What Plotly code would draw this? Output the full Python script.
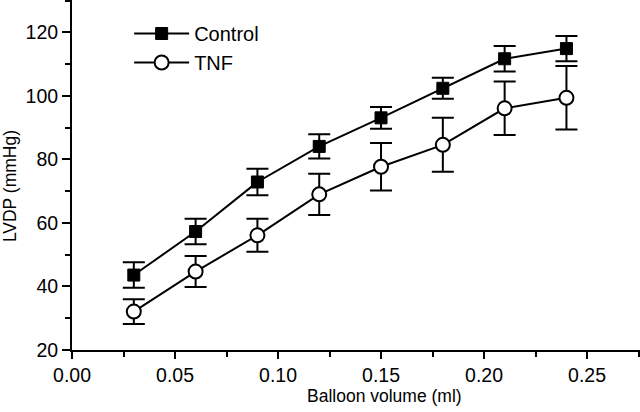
import plotly.graph_objects as go

volume = [0.03, 0.06, 0.09, 0.12, 0.15, 0.18, 0.21, 0.24]
control = [43.6, 57.3, 72.9, 84.1, 93.1, 102.4, 111.7, 114.9]
control_err = [4.0, 4.0, 4.2, 3.8, 3.4, 3.3, 4.0, 4.0]
tnf = [32.1, 44.7, 56.1, 69.0, 77.7, 84.6, 96.1, 99.4]
tnf_err = [3.9, 4.9, 5.2, 6.5, 7.5, 8.5, 8.4, 10.0]

FONT = "Liberation Sans, Arial, sans-serif"

fig = go.Figure()
fig.add_trace(go.Scatter(
    x=volume, y=tnf, name="TNF", mode="lines+markers",
    line=dict(color="black", width=2),
    marker=dict(symbol="circle", size=14, color="white", line=dict(color="black", width=2)),
    error_y=dict(type="data", array=tnf_err, color="black", thickness=2, width=11),
))
fig.add_trace(go.Scatter(
    x=volume, y=control, name="Control", mode="lines+markers",
    line=dict(color="black", width=2),
    marker=dict(symbol="square", size=12, color="black", line=dict(color="black", width=1)),
    error_y=dict(type="data", array=control_err, color="black", thickness=2, width=11),
))

fig.update_layout(
    width=640, height=412,
    margin=dict(l=72, r=0, t=0, b=62),
    paper_bgcolor="white", plot_bgcolor="white",
    font=dict(family=FONT, color="black", size=19.5),
    showlegend=True,
    legend=dict(x=0.1006, y=0.96, xanchor="left", yanchor="top",
                traceorder="reversed", font=dict(size=20, family=FONT),
                bgcolor="rgba(0,0,0,0)", itemwidth=55, tracegroupgap=0),
    xaxis=dict(range=[0, 0.2757], tickvals=[0, 0.05, 0.10, 0.15, 0.20, 0.25],
               ticktext=["0.00", "0.05", "0.10", "0.15", "0.20", "0.25"],
               ticks="outside", ticklen=7, tickwidth=2, tickcolor="black",
               minor=dict(dtick=0.025, tick0=0, ticks="outside", ticklen=5, tickwidth=2, tickcolor="black"),
               showline=True, linewidth=2, linecolor="black",
               showgrid=False, zeroline=False, tickfont=dict(size=19.5)),
    yaxis=dict(range=[20, 130.2], tickvals=[20, 40, 60, 80, 100, 120],
               ticks="outside", ticklen=8, tickwidth=2, tickcolor="black",
               minor=dict(dtick=10, tick0=0, ticks="outside", ticklen=5, tickwidth=2, tickcolor="black"),
               showline=True, linewidth=2, linecolor="black",
               showgrid=False, zeroline=False, tickfont=dict(size=19.5)),
    annotations=[
        dict(text="Balloon volume (ml)", x=0.1515, xref="x", y=-0.132, yref="paper",
             showarrow=False, font=dict(size=17.5, family=FONT), xanchor="center", yanchor="middle"),
        dict(text="LVDP (mmHg)", x=(10 - 72) / 568, xref="paper", y=71.6, yref="y", textangle=-90,
             showarrow=False, font=dict(size=17.5, family=FONT), xanchor="center", yanchor="middle"),
    ],
)

fig.write_html("out.html", config={"displayModeBar": False},
               post_script="document.body.style.margin='0px';")
